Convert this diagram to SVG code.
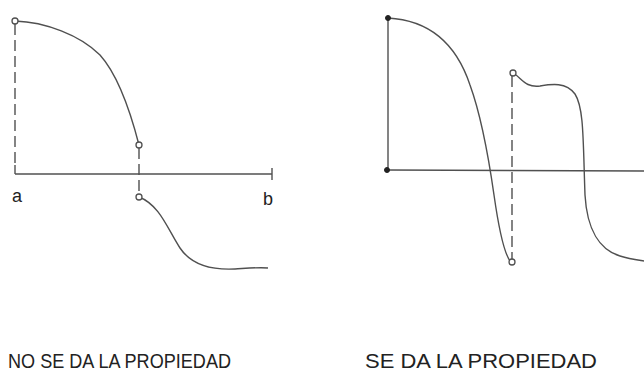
<svg xmlns="http://www.w3.org/2000/svg" width="644" height="372" viewBox="0 0 644 372">
<style>
.ln{fill:none;stroke:#505050;stroke-width:1.4}
.ds{fill:none;stroke:#505050;stroke-width:1.4;stroke-dasharray:11,5}
.oc{fill:#fff;stroke:#505050;stroke-width:1.3}
.fc{fill:#222;stroke:#222;stroke-width:1}
.t{font-family:"Liberation Sans",Arial,sans-serif;fill:#222}
</style>
<rect width="644" height="372" fill="#fff"/>
<g id="left">
<line class="ds" x1="15" y1="24" x2="15" y2="165"/>
<line class="ln" x1="15" y1="165" x2="15" y2="174"/>
<line class="ln" x1="15" y1="174" x2="272" y2="174"/>
<line class="ln" x1="272" y1="168" x2="272" y2="180"/>
<line class="ds" x1="139" y1="148" x2="139" y2="195"/>
<path class="ln" d="M15,21 C45,22 80,35 100,55 C118,75 130,110 139,145"/>
<path class="ln" d="M139,197 C160,205 168,230 180,248 C192,266 215,270 235,269 C250,268 260,267 268,268"/>
<circle class="oc" cx="15" cy="21" r="3"/>
<circle class="oc" cx="139" cy="145" r="3"/>
<circle class="oc" cx="139" cy="197" r="3"/>
<text class="t" x="12" y="202" font-size="18">a</text>
<text class="t" x="263" y="205" font-size="18">b</text>
</g>
<g id="right">
<line class="ln" x1="388" y1="18" x2="388" y2="170"/>
<line class="ln" x1="387" y1="170" x2="644" y2="171"/>
<line class="ds" x1="512" y1="76" x2="512" y2="259"/>
<path class="ln" d="M388,18 C425,20 455,40 470,85 C482,118 489,160 494,195 C499,230 504,255 511,262"/>
<path class="ln" d="M513,73 C522,78 525,88 540,86 C552,84 566,82 575,94 C584,108 583,140 585,195 C587,230 600,250 620,256 C630,259 638,260 644,261"/>
<circle class="fc" cx="388" cy="18" r="2.5"/>
<circle class="fc" cx="387" cy="170" r="2.5"/>
<circle class="oc" cx="513" cy="73" r="3"/>
<circle class="oc" cx="512" cy="262" r="3"/>
</g>
<text class="t" x="8" y="368" font-size="21" textLength="223" lengthAdjust="spacingAndGlyphs">NO SE DA LA PROPIEDAD</text>
<text class="t" x="365" y="368" font-size="21" textLength="232" lengthAdjust="spacingAndGlyphs">SE DA LA PROPIEDAD</text>
</svg>
